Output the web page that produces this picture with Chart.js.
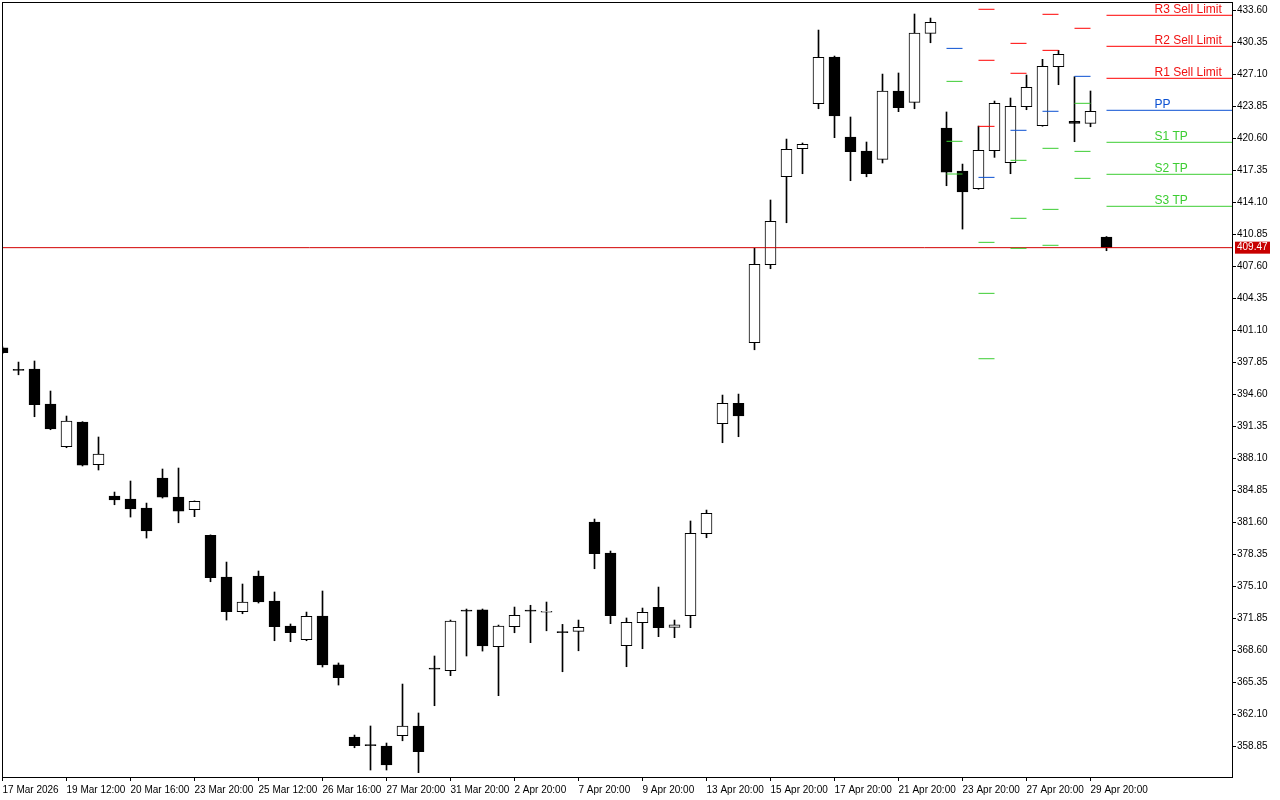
<!DOCTYPE html>
<html>
<head>
<meta charset="utf-8">
<script src="https://cdn.jsdelivr.net/npm/chart.js@4.4.1/dist/chart.umd.min.js"></script>
<style>
  html, body { margin: 0; padding: 0; background: #fff; }
</style>
</head>
<body>
<canvas id="chart" width="1280" height="800"></canvas>
<script>
// H4 bars, 17 Mar 2026 -> 30 Apr 2026
const opens = [399.30, 397.10, 397.14, 393.59, 389.25, 391.76, 387.42, 384.24, 383.94, 383.03,
  386.07, 384.14, 382.85, 380.26, 376.02, 372.49, 376.12, 373.58, 371.04, 369.65,
  372.06, 367.09, 359.77, 358.98, 358.86, 359.90, 360.89, 366.76, 366.50, 372.65,
  372.68, 368.94, 370.97, 372.65, 372.44, 370.48, 370.50, 381.61, 378.46, 369.04,
  371.38, 372.94, 370.91, 372.09, 380.42, 391.59, 393.66, 399.82, 407.74, 416.67,
  419.52, 424.09, 428.83, 420.71, 419.28, 418.44, 425.38, 424.23, 431.24, 421.62,
  417.25, 415.46, 419.31, 418.10, 423.78, 421.85, 427.85, 422.30, 422.10, 410.55];
const highs = [399.40, 397.85, 397.96, 394.91, 392.37, 391.80, 390.24, 384.65, 385.77, 383.53,
  386.99, 387.09, 383.75, 380.30, 377.54, 375.31, 376.63, 374.50, 371.25, 372.46,
  374.60, 367.29, 359.97, 360.89, 359.16, 365.15, 362.21, 368.00, 371.65, 372.77,
  372.77, 371.14, 372.97, 373.15, 373.48, 371.21, 371.65, 381.91, 378.66, 371.86,
  372.87, 375.00, 371.65, 381.71, 382.82, 394.50, 394.60, 409.40, 414.31, 420.50,
  420.10, 431.57, 428.93, 422.74, 420.20, 427.10, 427.21, 433.20, 432.79, 423.25,
  417.96, 421.82, 424.36, 424.67, 427.00, 428.60, 429.51, 426.83, 425.38, 410.60];
const lows = [398.70, 396.56, 392.30, 390.98, 389.15, 387.30, 386.89, 383.36, 382.11, 379.98,
  384.04, 381.53, 382.15, 375.54, 371.65, 372.29, 373.38, 369.55, 369.45, 369.55,
  366.88, 365.05, 358.68, 356.42, 356.42, 359.39, 356.15, 362.95, 366.00, 368.00,
  368.50, 363.97, 370.36, 369.35, 370.56, 366.40, 368.53, 376.86, 371.28, 366.91,
  368.74, 369.96, 369.86, 370.87, 380.01, 389.66, 390.27, 399.10, 407.33, 412.00,
  416.98, 423.58, 420.64, 416.27, 416.67, 418.07, 423.28, 423.58, 430.28, 415.76,
  411.36, 415.40, 418.64, 416.98, 423.48, 421.80, 426.02, 420.23, 421.75, 409.16];
const closes = [398.80, 397.00, 393.52, 391.05, 391.86, 387.39, 388.51, 383.84, 382.93, 380.69,
  384.14, 382.72, 383.71, 375.95, 372.49, 373.48, 373.48, 370.97, 370.36, 372.03,
  367.09, 365.79, 358.89, 358.90, 356.93, 360.89, 358.28, 366.66, 371.55, 372.55,
  369.01, 371.04, 372.13, 372.55, 372.44, 370.38, 370.91, 378.39, 372.09, 371.42,
  372.43, 370.87, 371.17, 380.46, 382.49, 393.66, 392.37, 407.78, 412.14, 419.46,
  419.96, 428.80, 422.84, 419.21, 416.98, 425.38, 423.68, 431.27, 432.36, 417.15,
  415.12, 419.36, 424.13, 423.82, 425.75, 427.89, 429.11, 422.10, 423.32, 409.47];

const xTickLabels = ['17 Mar 2026', '19 Mar 12:00', '20 Mar 16:00', '23 Mar 20:00', '25 Mar 12:00',
  '26 Mar 16:00', '27 Mar 20:00', '31 Mar 20:00', '2 Apr 20:00', '7 Apr 20:00', '9 Apr 20:00',
  '13 Apr 20:00', '15 Apr 20:00', '17 Apr 20:00', '21 Apr 20:00', '23 Apr 20:00',
  '27 Apr 20:00', '29 Apr 20:00'];
const yTicks = [358.85, 362.10, 365.35, 368.60, 371.85, 375.10, 378.35, 381.60, 384.85, 388.10,
  391.35, 394.60, 397.85, 401.10, 404.35, 407.60, 410.85, 414.10, 417.35, 420.60, 423.85,
  427.10, 430.35, 433.60];

const lastPrice = 409.47;

// daily pivot levels, each drawn from its first bar of the day
const pivotStart = [59, 61, 63, 65, 67, 69];
const pivotR3 = [null, 433.68, null, null, null, 433.07];
const pivotR2 = [null, 428.50, 430.22, 433.17, null, 429.92];
const pivotR1 = [null, 421.79, 427.18, 429.51, 431.75, 426.67];
const pivotPP = [429.71, 416.61, 421.39, 423.32, 426.87, 423.42];
const pivotS1 = [426.36, 410.01, 418.34, 419.56, 424.13, 420.17];
const pivotS2 = [420.27, 404.83, 412.45, 413.36, 419.25, 416.92];
const pivotS3 = [416.95, 398.19, 409.40, 409.71, 416.51, 413.67];
const pivotTexts = ['R3 Sell Limit', 'R2 Sell Limit', 'R1 Sell Limit', 'PP', 'S1 TP', 'S2 TP', 'S3 TP'];

const RED = '#ff0000';
const BLUE = '#0a50d2';
const GREEN = '#3ccd32';

const xMin = -0.03125;
const xMax = 76.84375;

const pivotLevels = [
  { vals: pivotR3, color: RED },
  { vals: pivotR2, color: RED },
  { vals: pivotR1, color: RED },
  { vals: pivotPP, color: BLUE },
  { vals: pivotS1, color: GREEN },
  { vals: pivotS2, color: GREEN },
  { vals: pivotS3, color: GREEN },
];

function segments(vals) {
  const pts = [];
  vals.forEach((v, i) => {
    if (v === null) return;
    const s = pivotStart[i];
    const e = i === vals.length - 1 ? xMax : s + 1;
    pts.push({ x: s, y: v }, { x: e, y: v }, { x: e, y: null });
  });
  return pts;
}

const pivotDatasets = pivotLevels.map(p => ({
  type: 'line',
  data: segments(p.vals),
  borderColor: p.color,
  borderWidth: 1,
  pointRadius: 0,
  spanGaps: false,
  order: 0,
}));

const bodyFill = opens.map((o, i) => closes[i] >= o ? '#ffffff' : '#000000');

const frame = {
  id: 'frame',
  afterDraw(chart) {
    const { ctx, chartArea: a, scales } = chart;
    ctx.save();
    ctx.strokeStyle = '#000';
    ctx.lineWidth = 1;
    ctx.strokeRect(a.left + 0.5, a.top + 0.5, a.right - a.left, a.bottom - a.top);

    // pivot names above the current day's lines
    ctx.font = '12px "Liberation Sans Narrow", "Liberation Sans", sans-serif';
    ctx.textAlign = 'left';
    ctx.textBaseline = 'alphabetic';
    const lx = scales.x.getPixelForValue(72);
    pivotLevels.forEach((p, i) => {
      const v = p.vals[p.vals.length - 1];
      ctx.fillStyle = p.color === RED ? '#f01010' : p.color;
      ctx.fillText(pivotTexts[i], lx, scales.y.getPixelForValue(v) - 2.5);
    });

    // last price tag on the axis
    const py = scales.y.getPixelForValue(lastPrice);
    ctx.fillStyle = '#c80000';
    ctx.fillRect(a.right + 3, py - 6, 35, 12);
    ctx.fillStyle = '#fff';
    ctx.font = '10px "Liberation Sans", sans-serif';
    ctx.textBaseline = 'middle';
    ctx.fillText(lastPrice.toFixed(2), a.right + 5, py);
    ctx.restore();
  }
};

new Chart(document.getElementById('chart'), {
  type: 'bar',
  data: {
    datasets: [
      ...pivotDatasets,
      {
        type: 'line',
        data: [{ x: xMin, y: lastPrice }, { x: xMax, y: lastPrice }],
        borderColor: '#d20000',
        borderWidth: 1,
        pointRadius: 0,
        order: 0,
      },
      {
        data: opens.map((o, i) => ({ x: i, y: [o, closes[i]] })),
        backgroundColor: bodyFill,
        borderColor: '#000',
        borderWidth: 1,
        borderSkipped: false,
        barThickness: 11,
        minBarLength: 1,
        grouped: false,
        order: 1,
      },
      {
        data: lows.map((l, i) => ({ x: i, y: [l, highs[i]] })),
        backgroundColor: '#000',
        borderWidth: 0,
        barThickness: 1,
        grouped: false,
        order: 2,
      },
    ]
  },
  options: {
    responsive: false,
    animation: false,
    events: [],
    layout: { autoPadding: false, padding: { left: 2, top: 2, right: 0, bottom: 0 } },
    plugins: { legend: { display: false }, tooltip: { enabled: false } },
    scales: {
      x: {
        type: 'linear',
        min: xMin,
        max: xMax,
        offset: false,
        bounds: 'data',
        border: { display: false },
        grid: { display: true, drawOnChartArea: false, drawTicks: true, tickLength: 4, color: '#000', offset: false },
        ticks: {
          autoSkip: false,
          maxRotation: 0,
          align: 'start',
          padding: 3,
          color: '#000',
          font: { family: 'Liberation Sans', size: 10 },
          callback: (v, i) => xTickLabels[i],
        },
        afterBuildTicks: s => { s.ticks = xTickLabels.map((_, j) => ({ value: j * 4 })); },
        afterFit: s => { s.height = 23; s.paddingLeft = 0; s.paddingRight = 0; },
      },
      y: {
        position: 'right',
        min: 355.71,
        max: 434.42,
        bounds: 'data',
        border: { display: false },
        grid: { display: true, drawOnChartArea: false, drawTicks: true, tickLength: 4, color: '#000' },
        ticks: {
          padding: 1,
          color: '#000',
          font: { family: 'Liberation Sans', size: 10 },
          callback: v => v.toFixed(2),
        },
        afterBuildTicks: s => { s.ticks = yTicks.map(v => ({ value: v })); },
        afterFit: s => { s.width = 48; s.paddingTop = 0; s.paddingBottom = 0; },
      }
    }
  },
  plugins: [frame]
});
</script>
</body>
</html>
